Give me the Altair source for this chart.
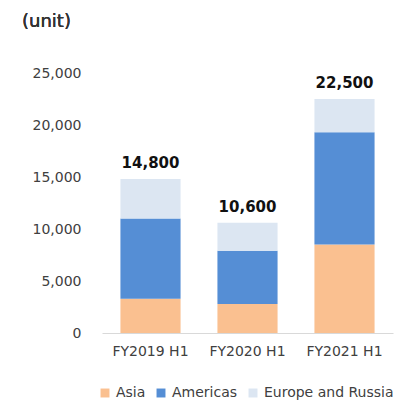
import altair as alt
import pandas as pd

periods = ["FY2019 H1", "FY2020 H1", "FY2021 H1"]
regions = ["Asia", "Americas", "Europe and Russia"]
asia = [3300, 2800, 8500]
americas = [7700, 5100, 10800]
europe = [3800, 2700, 3200]
totals = [14800, 10600, 22500]
colors = ["#FAC090", "#558ED5", "#DCE6F2"]

rows = []
for i, p in enumerate(periods):
    for k, (r, vals) in enumerate(zip(regions, [asia, americas, europe])):
        rows.append({"period": p, "region": r, "value": vals[i], "order": k})
df = pd.DataFrame(rows)
tot = pd.DataFrame({"period": periods, "total": totals})

FONT = "DejaVu Sans"

xenc = alt.X("period:N", sort=periods, title=None,
             scale=alt.Scale(paddingInner=0.38, paddingOuter=0.19),
             axis=alt.Axis(labelAngle=0, ticks=False, domainColor="#D9D9D9",
                           labelFontSize=14, labelColor="#404040", labelPadding=11,
                           labelFont=FONT))

bars = alt.Chart(df).mark_bar().encode(
    x=xenc,
    y=alt.Y("value:Q", stack="zero", title=None,
            scale=alt.Scale(domain=[0, 25000], nice=False),
            axis=alt.Axis(values=[0, 5000, 10000, 15000, 20000, 25000], format=",.0f",
                          domain=False, ticks=False, grid=False, labelPadding=21,
                          labelFontSize=14, labelColor="#404040", labelFont=FONT)),
    color=alt.Color("region:N", scale=alt.Scale(domain=regions, range=colors),
                    legend=alt.Legend(orient="none", direction="horizontal",
                                      legendX=-4, legendY=313, title=None,
                                      symbolType="square", symbolSize=80,
                                      symbolStrokeWidth=0, labelFontSize=14,
                                      labelFont=FONT, labelColor="#404040",
                                      columnPadding=8, labelOffset=4)),
    order=alt.Order("order:Q"),
)

labels = alt.Chart(tot).mark_text(fontWeight="bold", fontSize=15, font=FONT,
                                  baseline="bottom", dy=-8, color="#111111").encode(
    x=alt.X("period:N", sort=periods),
    y=alt.Y("total:Q"),
    text=alt.Text("total:Q", format=",.0f"),
)

unit = alt.Chart(tot).mark_text(text="(unit)", fontSize=18, font=FONT, align="left",
                                baseline="alphabetic", color="#333333").encode(
    x=alt.value(-80), y=alt.value(-46)
)

chart = alt.layer(bars, labels, unit).properties(
    width=291, height=260,
    autosize=alt.AutoSizeParams(type="none"),
    padding={"left": 94, "top": 65, "right": 2, "bottom": 70},
).configure_view(stroke=None)

chart.save("out.html", embed_options={"renderer": "svg", "actions": False})
